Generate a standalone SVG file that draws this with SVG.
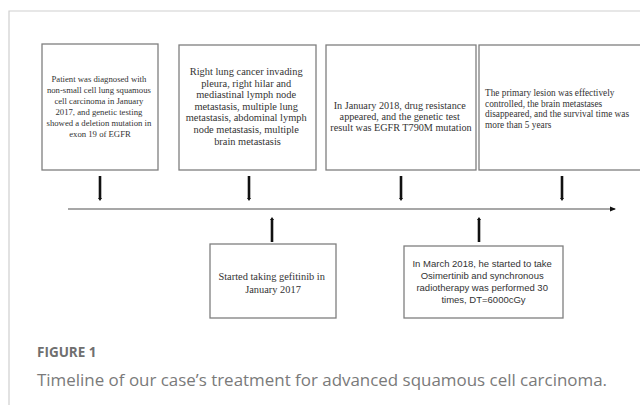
<svg xmlns="http://www.w3.org/2000/svg" width="640" height="405" viewBox="0 0 640 405">
<defs>
<style>
.box{fill:#fff;stroke:#7f7f7f;stroke-width:1.3}
.t{font-family:"Liberation Serif","Times New Roman",serif;fill:#333;text-anchor:middle}
.ts{font-family:"Liberation Sans",Arial,sans-serif;fill:#333;text-anchor:middle}
.tick{stroke:#111;stroke-width:2.6}
.frame{stroke:#cfcfcf;stroke-width:1.2;fill:none}
</style>
<marker id="ah" markerWidth="6" markerHeight="6" refX="5" refY="3" orient="auto" markerUnits="userSpaceOnUse">
<path d="M0,0.5 L6,3 L0,5.5 Z" fill="#111"/>
</marker>
<marker id="tk" markerWidth="4" markerHeight="4" refX="1" refY="2" orient="auto" markerUnits="userSpaceOnUse">
<path d="M0,0 L3,2 L0,4 Z" fill="#111"/>
</marker>
</defs>
<rect width="640" height="405" fill="#fff"/>
<path class="frame" d="M9,405 V11 H640"/>

<g id="node1">
<rect class="box" x="42" y="44" width="116" height="126"/>
<text class="t" font-size="8.7" x="100">
<tspan x="100" y="82">Patient was diagnosed with</tspan>
<tspan x="100" y="93">non-small cell lung squamous</tspan>
<tspan x="100" y="104">cell carcinoma in January</tspan>
<tspan x="100" y="115">2017, and genetic testing</tspan>
<tspan x="100" y="126">showed a deletion mutation in</tspan>
<tspan x="100" y="137">exon 19 of EGFR</tspan>
</text>
</g>

<g id="node2">
<rect class="box" x="179" y="45" width="137" height="125"/>
<text class="t" font-size="10.4">
<tspan x="247.5" y="75">Right lung cancer invading</tspan>
<tspan x="247.5" y="86.6">pleura, right hilar and</tspan>
<tspan x="247.5" y="98.2">mediastinal lymph node</tspan>
<tspan x="247.5" y="109.8">metastasis, multiple lung</tspan>
<tspan x="247.5" y="121.4">metastasis, abdominal lymph</tspan>
<tspan x="247.5" y="133">node metastasis, multiple</tspan>
<tspan x="247.5" y="144.6">brain metastasis</tspan>
</text>
</g>

<g id="node3">
<rect class="box" x="326" y="45" width="150" height="125"/>
<text class="t" font-size="10.2">
<tspan x="401" y="108.5">In January 2018, drug resistance</tspan>
<tspan x="401" y="119.7">appeared, and the genetic test</tspan>
<tspan x="401" y="130.9">result was EGFR T790M mutation</tspan>
</text>
</g>

<g id="node4">
<rect class="box" x="479" y="45" width="170" height="125"/>
<text class="t" font-size="9.3" style="text-anchor:start">
<tspan x="485" y="96">The primary lesion was effectively</tspan>
<tspan x="485" y="106.7">controlled, the brain metastases</tspan>
<tspan x="485" y="117.4">disappeared, and the survival time was</tspan>
<tspan x="485" y="128.1">more than 5 years</tspan>
</text>
</g>

<g id="node5">
<rect class="box" x="210" y="244" width="126" height="74"/>
<text class="t" font-size="10.4">
<tspan x="273" y="280">Started taking gefitinib in</tspan>
<tspan x="273" y="293">January 2017</tspan>
</text>
</g>

<g id="node6">
<rect class="box" x="404" y="246" width="159" height="72"/>
<text class="ts" font-size="9.5">
<tspan x="483.5" y="266.5">In March 2018, he started to take</tspan>
<tspan x="483.5" y="278.5">Osimertinib and synchronous</tspan>
<tspan x="483.5" y="290.5">radiotherapy was performed 30</tspan>
<tspan x="483.5" y="302.5">times, DT=6000cGy</tspan>
</text>
</g>

<g id="connectors">
<line x1="68" y1="209" x2="615" y2="209" stroke="#8a8a8a" stroke-width="1.3" marker-end="url(#ah)"/>
<line class="tick" x1="100" y1="176" x2="100" y2="199" marker-end="url(#tk)"/>
<line class="tick" x1="249" y1="176" x2="249" y2="199" marker-end="url(#tk)"/>
<line class="tick" x1="401" y1="176" x2="401" y2="199" marker-end="url(#tk)"/>
<line class="tick" x1="562" y1="176" x2="562" y2="199" marker-end="url(#tk)"/>
<line class="tick" x1="272" y1="242" x2="272" y2="219" marker-end="url(#tk)"/>
<line class="tick" x1="479" y1="242" x2="479" y2="219" marker-end="url(#tk)"/>
</g>

<text x="37" y="357" font-family="'Open Sans','Noto Sans',sans-serif" font-weight="bold" font-size="13.5" fill="#6f6f6f">FIGURE 1</text>
<text x="37" y="386" font-family="'Open Sans','Noto Sans',sans-serif" font-size="17" fill="#7a7a7a" textLength="570" lengthAdjust="spacingAndGlyphs">Timeline of our case’s treatment for advanced squamous cell carcinoma.</text>
</svg>
